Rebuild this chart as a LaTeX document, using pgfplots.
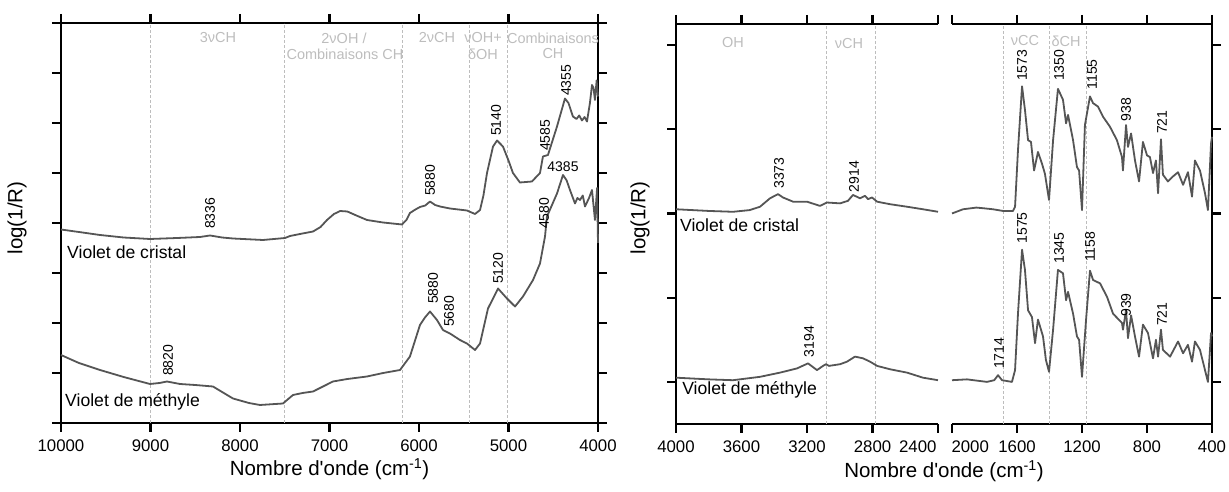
\documentclass[border=0pt]{standalone}
\usepackage{fontspec}
\setmainfont{Liberation Sans}[Ligatures=TeXOff]
\usepackage{pgfplots}
\pgfplotsset{compat=1.18}
\definecolor{curve}{HTML}{555555}
\definecolor{reg}{HTML}{BDBDBD}
\definecolor{dsh}{HTML}{BDBDBD}
\newcommand{\ann}{\fontsize{14}{16}\selectfont}
\newcommand{\regf}{\fontsize{14.5}{16}\selectfont}
\newcommand{\samp}{\fontsize{17.6}{19}\selectfont}
\newcommand{\lab}{\fontsize{20.5}{22}\selectfont}
\pgfplotsset{
  base/.style={scale only axis, clip=false, tick align=outside,
    major tick length=9pt, tick style={line width=2.3pt, black},
    axis line style={line width=2.4pt},
    /pgf/number format/assume math mode=true,
    /pgf/number format/1000 sep={},
    scaled x ticks=false,
    ticklabel style={font=\fontsize{16.8}{18}\selectfont},
    xticklabel style={yshift=-4pt},
    yticklabel=\empty, x dir=reverse},
  crv/.style={curve, line width=1.8pt, line join=round, mark=none},
  vl/.style={dsh, line width=1pt, dash pattern=on 3pt off 2pt, mark=none},
}
\tikzset{
  an/.style={rotate=90, anchor=west, inner sep=1pt, font=\ann},
  rl/.style={reg, font=\regf, inner sep=0pt, anchor=center},
}
\begin{document}
\begin{tikzpicture}
\path[use as bounding box] (0,0) rectangle (1229pt,492pt);
% ---------------- left panel ----------------
\begin{axis}[base, at={(61pt,69pt)}, anchor=south west, width=537pt, height=400pt,
  xmin=4000, xmax=10000, ymin=0, ymax=8,
  xtick={4000,5000,6000,7000,8000,9000,10000}, ytick={0,1,2,3,4,5,6,7,8},
  xlabel={Nombre d'onde (cm\textsuperscript{-1})}, ylabel={log(1/R)},
  every axis x label/.style={at={(axis description cs:0.5,0)}, yshift=-46pt, anchor=center, font=\lab},
  every axis y label/.style={at={(axis description cs:0,0.5)}, xshift=-44pt, yshift=5pt, rotate=90, anchor=center, font=\lab}]
\addplot[vl] coordinates {(9000,0) (9000,8)};
\addplot[vl] coordinates {(7500,0) (7500,8)};
\addplot[vl] coordinates {(6180,0) (6180,8)};
\addplot[vl] coordinates {(5440,0) (5440,8)};
\addplot[vl] coordinates {(5010,0) (5010,8)};
% Violet de cristal
\addplot[crv] coordinates {(10000,3.87) (9800,3.82) (9564,3.76) (9300,3.71) (9006,3.68) (8700,3.70) (8447,3.72) (8335,3.75) (8200,3.71) (8078,3.69) (7743,3.66) (7497,3.70) (7441,3.74) (7330,3.78) (7184,3.83) (7100,3.92) (7028,4.06) (6950,4.18) (6880,4.24) (6800,4.23) (6700,4.15) (6581,4.06) (6402,4.01) (6190,3.97) (6140,4.06) (6101,4.20) (6040,4.27) (5989,4.32) (5930,4.35) (5877,4.43) (5820,4.36) (5765,4.33) (5654,4.29) (5464,4.25) (5374,4.18) (5318,4.26) (5280,4.55) (5240,5.00) (5173,5.53) (5128,5.65) (5062,5.53) (5000,5.25) (4950,5.00) (4872,4.81) (4738,4.83) (4648,5.00) (4615,5.33) (4559,5.36) (4458,5.93) (4369,6.49) (4330,6.40) (4280,6.13) (4240,6.08) (4210,6.15) (4179,6.05) (4150,6.12) (4123,6.03) (4090,6.40) (4067,6.76) (4050,6.70) (4034,6.46) (4015,6.85) (4000,6.53)};
% Violet de methyle
\addplot[crv] coordinates {(10000,1.36) (9800,1.20) (9564,1.06) (9300,0.92) (9006,0.78) (8900,0.80) (8816,0.83) (8670,0.78) (8500,0.76) (8302,0.73) (8200,0.62) (8078,0.49) (7900,0.40) (7777,0.36) (7520,0.39) (7408,0.56) (7300,0.60) (7184,0.63) (6961,0.83) (6800,0.88) (6581,0.93) (6400,1.00) (6212,1.06) (6101,1.33) (5989,1.96) (5933,2.11) (5877,2.23) (5799,2.06) (5732,1.86) (5654,1.79) (5542,1.66) (5464,1.59) (5374,1.46) (5318,1.59) (5229,2.29) (5170,2.50) (5117,2.69) (5017,2.49) (4927,2.33) (4838,2.53) (4726,2.86) (4648,3.19) (4592,3.73) (4570,4.13) (4458,4.59) (4391,4.96) (4350,4.85) (4313,4.66) (4257,4.39) (4230,4.50) (4201,4.46) (4170,4.55) (4145,4.33) (4100,4.50) (4067,4.66) (4034,4.06) (4010,4.70) (4000,3.60)};
% annotations
\node[an] at (axis cs:8335,3.86) {8336};
\node[an] at (axis cs:5877,4.52) {5880};
\node[an] at (axis cs:5140,5.72) {5140};
\node[an] at (axis cs:4592,5.42) {4585};
\node[an] at (axis cs:4358,6.52) {4355};
\node[font=\ann, inner sep=0pt] at (axis cs:4391,5.12) {4385};
\node[an] at (axis cs:4604,3.86) {4580};
\node[an] at (axis cs:8804,0.92) {8820};
\node[an] at (axis cs:5844,2.36) {5880};
\node[an] at (axis cs:5665,1.90) {5680};
\node[an] at (axis cs:5117,2.76) {5120};
\node[font=\samp, anchor=west, inner sep=0pt] at (axis cs:9933,3.42) {Violet de cristal};
\node[font=\samp, anchor=west, inner sep=0pt] at (axis cs:9955,0.42) {Violet de méthyle};
% region labels
\node[rl] at (axis cs:8246,7.70) {3νCH};
\node[rl] at (axis cs:6838,7.70) {2νOH /};
\node[rl] at (axis cs:6827,7.38) {Combinaisons CH};
\node[rl] at (axis cs:5799,7.70) {2νCH};
\node[rl] at (axis cs:5285,7.70) {νOH+};
\node[rl] at (axis cs:5285,7.38) {δOH};
\node[rl] at (axis cs:4503,7.70) {Combinaisons};
\node[rl] at (axis cs:4503,7.38) {CH};
\end{axis}
% ---------------- right panel, part 1 ----------------
\begin{axis}[base, at={(676pt,68pt)}, anchor=south west, width=262pt, height=400pt,
  xmin=2400, xmax=4000, ymin=-0.5, ymax=4.25,
  xtick={2800,3200,3600,4000}, ytick={0,1,2,3,4}, ytick pos=left,
  extra x ticks={2400},
  extra x tick style={xticklabel style={anchor=north east, xshift=2pt}},
  axis line style={draw=none},
  xlabel={Nombre d'onde (cm\textsuperscript{-1})}, ylabel={log(1/R)},
  every axis x label/.style={at={(axis description cs:1.023,0)}, yshift=-47pt, anchor=center, font=\lab},
  every axis y label/.style={at={(axis description cs:0,0.5)}, xshift=-36pt, yshift=6pt, rotate=90, anchor=center, font=\lab}]
\draw[line width=2.4pt] (rel axis cs:1,1) -- (rel axis cs:0,1) -- (rel axis cs:0,0) -- (rel axis cs:1,0);
\addplot[vl] coordinates {(3084,-0.5) (3084,4.25)};
\addplot[vl] coordinates {(2779,-0.5) (2779,4.25)};
\addplot[crv] coordinates {(4000,2.05) (3800,2.03) (3652,2.02) (3550,2.04) (3487,2.08) (3426,2.18) (3377,2.23) (3347,2.19) (3285,2.14) (3200,2.14) (3121,2.09) (3078,2.13) (2998,2.12) (2950,2.15) (2919,2.22) (2876,2.18) (2846,2.21) (2827,2.17) (2803,2.19) (2772,2.14) (2693,2.11) (2589,2.08) (2492,2.05) (2400,2.02)};
\addplot[crv] coordinates {(4000,0.05) (3800,0.03) (3652,0.02) (3487,0.06) (3365,0.11) (3261,0.16) (3194,0.22) (3139,0.14) (3102,0.19) (3084,0.21) (3066,0.19) (2998,0.21) (2956,0.24) (2907,0.30) (2858,0.28) (2815,0.24) (2772,0.19) (2693,0.15) (2589,0.11) (2492,0.05) (2400,0.02)};
\node[an] at (axis cs:3371,2.28) {3373};
\node[an] at (axis cs:2913,2.24) {2914};
\node[an] at (axis cs:3188,0.28) {3194};
\node[font=\samp, anchor=west, inner sep=0pt] at (axis cs:3976,1.86) {Violet de cristal};
\node[font=\samp, anchor=west, inner sep=0pt] at (axis cs:3963,-0.09) {Violet de méthyle};
\node[rl] at (axis cs:3652,4.03) {OH};
\node[rl] at (axis cs:2943,4.02) {νCH};
\end{axis}
% ---------------- right panel, part 2 ----------------
\begin{axis}[base, at={(952pt,68pt)}, anchor=south west, width=260pt, height=400pt,
  xmin=400, xmax=2000, ymin=-0.5, ymax=4.25,
  xtick={400,800,1200,1600}, ytick={0,1,2,3,4}, ytick pos=right,
  extra x ticks={2000},
  extra x tick style={xticklabel style={anchor=north west, xshift=-4pt}},
  axis line style={draw=none}]
\draw[line width=2.4pt] (rel axis cs:0,1) -- (rel axis cs:1,1) -- (rel axis cs:1,0) -- (rel axis cs:0,0);
\addplot[vl] coordinates {(1686,-0.5) (1686,4.25)};
\addplot[vl] coordinates {(1403,-0.5) (1403,4.25)};
\addplot[vl] coordinates {(1175,-0.5) (1175,4.25)};
\addplot[crv] coordinates {(2000,2.00) (1932,2.05) (1850,2.07) (1797,2.06) (1748,2.05) (1686,2.03) (1625,2.03) (1612,2.08) (1594,2.75) (1569,3.51) (1551,3.23) (1532,2.87) (1514,2.85) (1495,2.51) (1471,2.73) (1446,2.59) (1428,2.47) (1403,2.16) (1378,2.87) (1348,3.48) (1317,3.35) (1298,3.07) (1286,3.17) (1255,2.87) (1231,2.55) (1218,2.51) (1200,2.04) (1182,3.05) (1151,3.39) (1132,3.31) (1102,3.27) (1071,3.15) (1028,3.03) (985,2.87) (954,2.67) (948,2.51) (929,3.05) (917,2.79) (898,2.95) (874,2.63) (849,2.38) (825,2.85) (800,2.69) (782,2.67) (763,2.48) (745,2.63) (732,2.24) (714,2.88) (702,2.46) (671,2.38) (640,2.44) (609,2.49) (578,2.34) (548,2.49) (523,2.20) (505,2.63) (474,2.51) (443,2.24) (425,2.04) (406,2.83) (400,2.91)};
\addplot[crv] coordinates {(2000,0.02) (1908,0.03) (1785,0.00) (1740,0.02) (1717,0.08) (1692,0.02) (1631,0.00) (1612,0.14) (1594,0.81) (1569,1.57) (1551,1.33) (1532,0.85) (1508,0.77) (1489,0.46) (1471,0.74) (1440,0.54) (1422,0.26) (1403,0.12) (1378,0.62) (1348,1.33) (1317,1.29) (1298,0.97) (1286,1.07) (1255,0.81) (1231,0.54) (1218,0.50) (1200,0.06) (1175,0.74) (1151,1.32) (1132,1.21) (1089,1.17) (1046,1.01) (1009,0.81) (954,0.70) (948,0.62) (929,0.85) (917,0.52) (898,0.79) (874,0.54) (849,0.30) (825,0.68) (794,0.58) (763,0.28) (745,0.50) (732,0.30) (714,0.62) (702,0.38) (658,0.30) (609,0.48) (578,0.34) (548,0.44) (523,0.24) (505,0.48) (474,0.38) (425,0.00) (406,0.58) (400,0.54)};
\node[an] at (axis cs:1569,3.56) {1573};
\node[an] at (axis cs:1342,3.56) {1350};
\node[an] at (axis cs:1138,3.46) {1155};
\node[an] at (axis cs:929,3.08) {938};
\node[an] at (axis cs:708,2.93) {721};
\node[an] at (axis cs:1569,1.63) {1575};
\node[an] at (axis cs:1342,1.39) {1345};
\node[an] at (axis cs:1151,1.41) {1158};
\node[an] at (axis cs:929,0.76) {939};
\node[an] at (axis cs:708,0.65) {721};
\node[an] at (axis cs:1711,0.14) {1714};
\node[rl] at (axis cs:1551,4.05) {νCC};
\node[rl] at (axis cs:1298,4.05) {δCH};
\end{axis}
\end{tikzpicture}
\end{document}
